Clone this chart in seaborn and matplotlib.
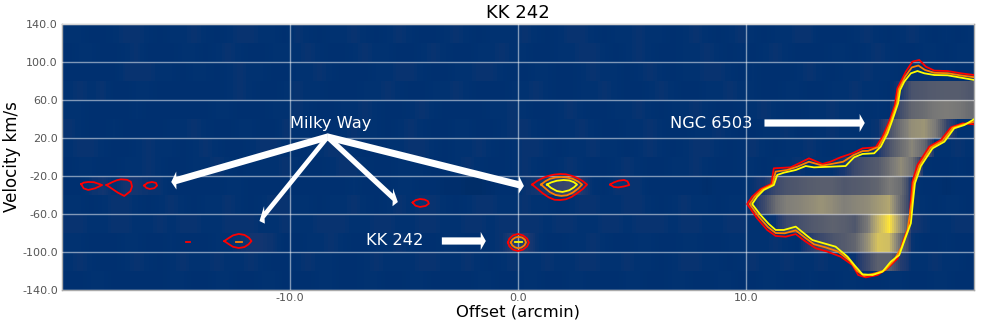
#!/usr/bin/env python3
"""KK 242 position-velocity map."""

import numpy as np
import matplotlib
matplotlib.use('Agg')
import matplotlib.pyplot as plt
from matplotlib.transforms import Affine2D
import seaborn as sns

OFF_MIN, OFF_STEP = -20.0, 0.5
VEL_MAX, VEL_STEP = 140.0, 20.0
SUB = 6  # display subdivisions per column, the map is drawn blurred along offset
ARROW_K = 1.85  # x stretch of the arrow shapes

# brightness per 0.5 arcmin column, one row per 20 km/s
v_120 = [9,9,8,8,9,10,10,9,8,9, 9,10,9,8,9,10,10,9,9,8, 10,9,8,9,9,10,9,8,9,10, 9,8,8,9,10,9,8,9,9,9, 10,9,8,9,10,10,9,8,9,9, 10,9,9,8,9,10,9,8,9,10, 9,8,9,9,10,10,8,8,8,9, 10,9,8,9,10,9,8,9,8,9]
v_100 = [8,9,9,8,8,9,10,8,8,8, 9,9,8,9,10,9,8,8,9,9, 9,10,9,8,8,9,10,9,9,8, 8,9,10,9,8,8,9,9,10,9, 9,8,8,9,9,10,10,9,8,9, 10,9,8,8,9,9,10,9,8,9, 8,9,10,9,8,8,8,9,9,8, 9,10,9,8,8,9,9,8,9,9]
v_80 = [8,8,8,8,8,10,10,10,9,9, 8,9,9,8,9,10,9,9,8,8, 9,9,10,9,8,8,8,9,9,10, 10,9,8,8,9,9,10,10,9,8, 8,9,9,8,8,9,10,9,9,8, 9,10,9,8,9,9,10,10,9,8, 9,8,8,8,9,10,9,8,9,9, 10,9,9,8,9,8,8,9,8,8]
v_60 = [9,10,9,10,8,8,9,9,8,8, 8,8,8,8,9,10,9,8,8,9, 10,9,9,8,8,8,9,9,10,9, 8,8,9,9,10,9,8,8,8,9, 9,10,9,8,8,9,9,10,9,8, 8,9,10,9,8,8,9,9,10,9, 9,8,8,9,9,8,8,9,9,10, 9,9,8,12,28,30,32,33,33,30]
v_40 = [9,9,8,8,8,8,9,8,8,8, 8,8,8,9,9,8,8,8,9,9, 10,9,8,8,9,9,10,9,8,8, 9,10,9,8,8,8,8,9,9,10, 9,8,8,9,10,9,8,8,9,9, 10,9,8,9,9,10,9,8,8,9, 9,10,9,8,8,9,9,10,9,9, 8,9,8,25,38,42,48,50,48,42]
v_20 = [10,9,8,8,9,8,8,8,8,9, 9,10,9,8,8,9,9,8,8,10, 9,9,8,8,9,10,9,9,8,9, 10,9,8,8,9,9,8,8,9,10, 10,9,8,9,9,10,9,8,8,9, 9,10,9,8,8,9,9,10,9,8, 8,9,9,10,8,8,9,10,9,9, 9,10,25,45,60,63,50,20,9,9]
v_0 = [9,10,10,9,8,8,9,10,9,9, 8,9,10,9,8,8,9,10,10,9, 8,9,9,10,10,9,8,8,9,9, 10,10,9,8,9,9,10,9,8,9, 10,10,9,8,9,9,10,9,9,8, 9,10,9,8,9,10,10,9,8,9, 10,9,8,9,9,10,9,8,9,9, 8,12,28,42,55,40,9,9,10,9]
v_m20 = [8,9,9,8,8,9,9,10,9,8, 8,9,9,10,9,8,9,9,9,10, 9,8,8,9,10,10,9,8,8,9, 9,9,8,8,9,10,9,8,8,9, 10,9,8,9,10,9,8,8,9,10, 9,8,8,9,9,10,9,8,8,9, 9,8,9,9,10,9,9,9,12,22, 28,32,45,58,45,9,8,8,9,8]
v_m40 = [8,8,10,11,9,11,11,10,10,8, 8,8,8,8,9,9,8,8,8,8, 8,8,8,8,8,9,8,8,8,9, 9,8,8,7,7,6,6,7,8,8, 10,11,14,20,22,13,9,8,10,10, 10,8,8,8,8,8,7,8,8,8, 10,12,22,28,30,33,34,34,30,32, 34,38,50,42,10,8,8,7,8,8]
v_m60 = [9,9,8,9,10,10,9,8,9,10, 9,8,9,9,10,9,8,9,10,10, 9,9,8,9,9,10,9,8,9,10, 9,10,10,9,8,9,10,10,9,9, 10,9,9,8,9,10,10,9,9,10, 10,9,8,9,10,9,9,8,9,9, 10,22,42,52,54,58,62,58,52,55, 58,65,72,40,10,9,8,9,9,8]
v_m80 = [10,10,9,9,10,10,9,9,10,9, 10,10,9,9,10,10,10,9,9,10, 9,9,10,10,10,9,9,10,10,9, 9,10,10,9,9,10,10,9,10,10, 10,10,9,10,10,9,9,10,10,9, 10,10,10,9,10,10,9,9,10,10, 9,9,10,22,25,30,33,36,34,30, 48,78,100,60,12,10,9,9,10,10]
v_m100 = [9,9,8,8,8,9,9,8,8,9, 8,8,8,9,9,10,11,11,10,8, 8,9,9,10,9,8,8,9,9,10, 9,8,8,9,9,8,8,9,10,15, 14,10,8,8,9,9,10,9,8,8, 9,9,8,8,9,9,8,8,9,9, 9,9,10,9,8,15,22,28,32,38, 60,85,82,40,10,8,8,9,8,8]
v_m120 = [9,10,9,8,8,9,10,9,8,9, 10,9,9,10,9,9,10,9,8,8, 9,10,9,9,8,8,9,10,9,9, 9,10,10,9,9,10,9,8,9,10, 9,9,10,9,9,10,10,9,9,10, 9,9,8,9,10,10,9,9,8,9, 10,9,9,10,9,9,10,9,9,10, 22,35,35,15,9,9,10,9,9,8]
v_m140 = [8,8,9,9,8,8,8,8,8,9, 9,8,8,9,9,8,8,9,9,8, 8,8,9,9,8,8,9,9,8,8, 9,9,8,8,8,8,9,9,8,8, 9,9,8,8,9,9,8,8,8,9, 9,8,8,9,9,8,8,9,9,8, 8,9,9,8,8,9,8,8,9,9, 8,8,9,9,8,8,9,9,8,8]

# NGC 6503 contours (offset, velocity), open at the right edge
ngc_red_off = [20.0,19.43,18.84,18.26,17.89,17.6,17.3,17.01,16.64,16.53,16.28,15.99,15.69,15.11,14.67,14.15,13.71,13.35,12.76,12.32,11.96,11.22,11.11,10.64,10.27,10.05,10.49,10.93,11.3,11.74,12.18,12.62,13.06,13.57,14.15,14.67,14.92,15.25,15.77,16.21,16.65,16.91,17.16,17.23,17.3,17.52,18.04,18.55,18.99,19.5,20.0]
ngc_red_vel = [86.3,88.1,90.5,90.9,95.1,102.1,100.4,89.8,72.3,54.7,37.2,21.4,10.2,9.1,3.9,-0.3,-4.9,-7.4,-1.4,-6.7,-10.9,-11.9,-28.4,-33.7,-41.8,-49.5,-64.6,-76.8,-83.1,-83.9,-81.1,-89.1,-96.1,-99.6,-104.9,-113.7,-124.2,-126.7,-124.2,-117.2,-106.7,-87.4,-71.6,-45.3,-25.9,-8.4,10.9,17.9,31.2,35.4,34.4]
ngc_orange_off = [20.0,19.43,18.84,18.26,17.85,17.56,17.27,16.98,16.7,16.6,16.35,16.1,15.8,15.36,15.11,14.7,14.26,13.71,13.35,12.76,12.25,11.8,11.3,11.16,10.71,10.38,10.16,10.56,10.96,11.3,11.7,12.18,12.58,12.98,13.5,14.04,14.56,14.87,15.18,15.66,16.1,16.5,16.82,17.08,17.28,17.35,17.6,18.1,18.62,19.06,19.54,20.0]
ngc_orange_vel = [84.0,85.8,88.2,88.6,91.6,96.3,94.3,84.5,71.4,55.6,38.0,23.2,10.5,6.5,6.2,1.8,-5.0,-7.5,-9.0,-5.0,-10.2,-13.7,-15.4,-29.0,-34.2,-41.8,-49.5,-62.8,-73.7,-80.0,-80.3,-77.2,-84.7,-91.8,-95.2,-99.6,-109.3,-119.8,-125.1,-122.5,-119.0,-108.5,-95.0,-77.7,-45.3,-26.8,-9.0,10.0,17.0,30.7,34.5,37.0]
ngc_yellow_off = [20.0,19.43,18.84,18.26,17.82,17.52,17.23,16.94,16.76,16.67,16.42,16.21,15.91,15.62,15.11,14.74,14.37,13.71,12.98,12.62,12.18,11.66,11.37,11.22,10.78,10.49,10.27,10.64,11.0,11.3,11.66,12.18,12.54,12.91,13.42,13.93,14.45,14.81,15.11,15.55,15.99,16.35,16.72,17.01,17.23,17.33,17.41,17.67,18.18,18.7,19.13,19.58,20.0]
ngc_yellow_vel = [81.1,83.5,86.0,86.3,88.1,90.5,88.1,79.3,70.5,56.5,38.9,24.9,10.9,3.9,3.2,-0.3,-9.5,-10.2,-10.9,-9.5,-13.7,-16.5,-18.9,-29.5,-34.7,-41.8,-49.5,-61.1,-70.5,-76.8,-76.8,-73.3,-80.3,-87.4,-90.9,-94.4,-104.9,-115.4,-123.5,-124.2,-120.7,-110.2,-103.2,-83.9,-69.8,-45.3,-27.7,-9.5,9.1,16.1,30.2,33.7,39.7]

# small closed contours
blob_a_off = [-19.16,-19.05,-18.85,-18.6,-18.24,-18.55,-18.85,-19.05,-19.16]
blob_a_vel = [-28.5,-27,-26.3,-26.5,-29.5,-33,-34.7,-33,-28.5]
blob_b_off = [-18.05,-17.8,-17.6,-17.42,-17.15,-16.98,-16.93,-17.0,-17.27,-17.55,-17.8,-18.05]
blob_b_vel = [-29.5,-26.5,-24.5,-23.5,-24,-26,-31,-36,-41,-37.5,-33.5,-29.5]
blob_c_off = [-16.4,-16.25,-16.05,-15.88,-15.83,-15.95,-16.15,-16.3,-16.4]
blob_c_vel = [-30,-27.2,-26.3,-27.2,-30,-32.8,-33.7,-32.5,-30]
blob_d_off = [-14.55,-14.38]
blob_d_vel = [-89.5,-89.5]
blob_e_off = [-12.88,-12.7,-12.5,-12.25,-12.0,-11.8,-11.69,-11.82,-12.0,-12.25,-12.5,-12.7,-12.88]
blob_e_vel = [-88.5,-85.5,-82.5,-81,-82,-85,-88.5,-92,-94.8,-95.8,-94.5,-91.5,-88.5]
blob_e2_off = [-12.35,-12.09]
blob_e2_vel = [-89.5,-89.5]
blob_f_off = [-4.62,-4.5,-4.3,-4.1,-3.95,-3.91,-4.05,-4.3,-4.5,-4.62]
blob_f_vel = [-48,-45.5,-44.2,-44.8,-46.5,-49,-51.5,-52.6,-51.2,-48]
blob_h_off = [4.04,4.2,4.4,4.65,4.8,4.88,4.65,4.4,4.2,4.04]
blob_h_vel = [-29,-26.8,-25,-24.2,-25.5,-29.5,-31,-32,-31.5,-29]
main_red_off = [0.62,0.85,1.1,1.35,1.6,1.85,2.1,2.35,2.6,2.85,3.03,2.85,2.6,2.35,2.1,1.85,1.6,1.35,1.1,0.85,0.62]
main_red_vel = [-29,-25,-22,-19.8,-18.5,-17.9,-18.2,-19.8,-22,-25.5,-29,-33.5,-38,-42,-44.5,-45.3,-45,-42.5,-38.5,-33.5,-29]
main_orange_off = [1.01,1.2,1.4,1.65,1.9,2.15,2.4,2.65,2.81,2.65,2.4,2.15,1.9,1.65,1.4,1.2,1.01]
main_orange_vel = [-29,-25.5,-23,-21.5,-21,-21.5,-23,-26,-29,-33,-37.5,-40.3,-41,-40,-37,-33,-29]
main_yellow_off = [1.27,1.45,1.7,2.0,2.25,2.45,2.59,2.45,2.25,1.95,1.7,1.45,1.27]
main_yellow_vel = [-29,-26.8,-25,-24.2,-24.7,-26.5,-29,-32,-35,-36.8,-35.8,-32.5,-29]
kk_red_off = [-0.44,-0.38,-0.22,0.0,0.22,0.4,0.48,0.4,0.22,0.0,-0.22,-0.38,-0.44]
kk_red_vel = [-90,-86,-82.5,-81,-82.5,-86,-90,-94,-97.5,-99,-97.5,-94,-90]
kk_orange_off = [-0.31,-0.25,-0.12,0.02,0.18,0.3,0.35,0.28,0.15,0.02,-0.12,-0.25,-0.31]
kk_orange_vel = [-90,-87,-84.8,-84,-84.8,-87,-90,-93,-95.2,-96,-95.2,-93,-90]
kk_yellow_off = [-0.13,0.18]
kk_yellow_vel = [-89.5,-89.5]

# arrows as (start offset, start velocity, end offset, end velocity)
mw_start = (-8.35, 21.1)
mw_tips_off = [-15.21, -11.34, -5.27, 0.26]
mw_tips_vel = [-26.3, -67.4, -47.4, -30.5]
kk_arrow = (-3.34, -88.4, -1.41, -88.4)
ngc_arrow = (10.81, 35.8, 15.21, 35.8)

x_tick_vals = [-10.0, 0.0, 10.0]
y_tick_vals = [140.0, 100.0, 60.0, 20.0, -20.0, -60.0, -100.0, -140.0]


def cx(off):
    return (np.asarray(off) - OFF_MIN) / OFF_STEP * SUB


def cy(vel):
    return (VEL_MAX - np.asarray(vel)) / VEL_STEP


def draw_arrow(ax, x0, y0, x1, y1):
    # arrow shape is built in x units squeezed by ARROW_K, then stretched back
    trans = Affine2D().scale(ARROW_K, 1) + ax.transData
    ax.arrow(cx(x0) / ARROW_K, cy(y0), (cx(x1) - cx(x0)) / ARROW_K, cy(y1) - cy(y0),
             width=0.38, head_width=0.95, head_length=0.45 * SUB / ARROW_K,
             length_includes_head=True, fc='white', ec='white',
             lw=0, zorder=5, transform=trans)


def blur_columns(m):
    # same look as image smoothing along the offset axis only
    fine = np.repeat(m, SUB, axis=1).astype(float)
    kernel = np.ones(SUB) / SUB
    pad = SUB // 2
    out = []
    for row in fine:
        padded = np.pad(row, pad, mode='edge')
        out.append(np.convolve(padded, kernel, mode='same')[pad:-pad])
    return np.array(out)


matrix = np.array([v_120, v_100, v_80, v_60, v_40, v_20, v_0, v_m20,
                   v_m40, v_m60, v_m80, v_m100, v_m120, v_m140])

fig = plt.figure(figsize=(9.81, 3.29), dpi=100)
ax = fig.add_axes([62 / 981, 1 - 290 / 329, 912 / 981, 266 / 329])

sns.heatmap(blur_columns(matrix), cmap='cividis', vmin=0, vmax=100, cbar=False,
            xticklabels=False, yticklabels=False, ax=ax)

ax.set_xticks(cx(x_tick_vals))
ax.set_xticklabels([f'{v:.1f}' for v in x_tick_vals])
ax.set_yticks(cy(y_tick_vals))
ax.set_yticklabels([f'{v:.1f}' for v in y_tick_vals], rotation=0)
ax.tick_params(length=0, labelsize=8, labelcolor='#555555', pad=3)
ax.tick_params(axis='x', pad=2)
ax.set_axisbelow(False)
ax.grid(True, color='white', alpha=0.5, lw=1)
for s in ax.spines.values():
    s.set_visible(True)
    s.set_color('#aaaaaa')
    s.set_linewidth(1)

ax.set_title('KK 242', fontsize=13, pad=4)
ax.set_xlabel('Offset (arcmin)', fontsize=11.8, labelpad=1)
ax.set_ylabel('Velocity km/s', fontsize=12, labelpad=1)

RED, ORANGE, YELLOW = '#ff0000', '#ff8000', '#ffff00'
contours = [
    (ngc_red_off, ngc_red_vel, RED), (ngc_orange_off, ngc_orange_vel, ORANGE),
    (ngc_yellow_off, ngc_yellow_vel, YELLOW),
    (blob_a_off, blob_a_vel, RED), (blob_b_off, blob_b_vel, RED),
    (blob_c_off, blob_c_vel, RED), (blob_d_off, blob_d_vel, RED),
    (blob_e_off, blob_e_vel, RED), (blob_e2_off, blob_e2_vel, ORANGE),
    (blob_f_off, blob_f_vel, RED), (blob_h_off, blob_h_vel, RED),
    (main_red_off, main_red_vel, RED), (main_orange_off, main_orange_vel, ORANGE),
    (main_yellow_off, main_yellow_vel, YELLOW),
    (kk_red_off, kk_red_vel, RED), (kk_orange_off, kk_orange_vel, ORANGE),
    (kk_yellow_off, kk_yellow_vel, YELLOW),
]
for off, vel, col in contours:
    ax.plot(cx(off), cy(vel), color=col, lw=1.3, zorder=4, solid_joinstyle='round')

for tx, ty in zip(mw_tips_off, mw_tips_vel):
    draw_arrow(ax, mw_start[0], mw_start[1], tx, ty)
draw_arrow(ax, *kk_arrow)
draw_arrow(ax, *ngc_arrow)

ax.text(cx(-8.2), cy(35.5), 'Milky Way', color='white', fontsize=11.7, ha='center', va='center', zorder=6)
ax.text(cx(-5.4), cy(-88.4), 'KK 242', color='white', fontsize=11.7, ha='center', va='center', zorder=6)
ax.text(cx(8.48), cy(35.5), 'NGC 6503', color='white', fontsize=11.7, ha='center', va='center', zorder=6)

fig.savefig('out.png', dpi=100)
plt.close()
